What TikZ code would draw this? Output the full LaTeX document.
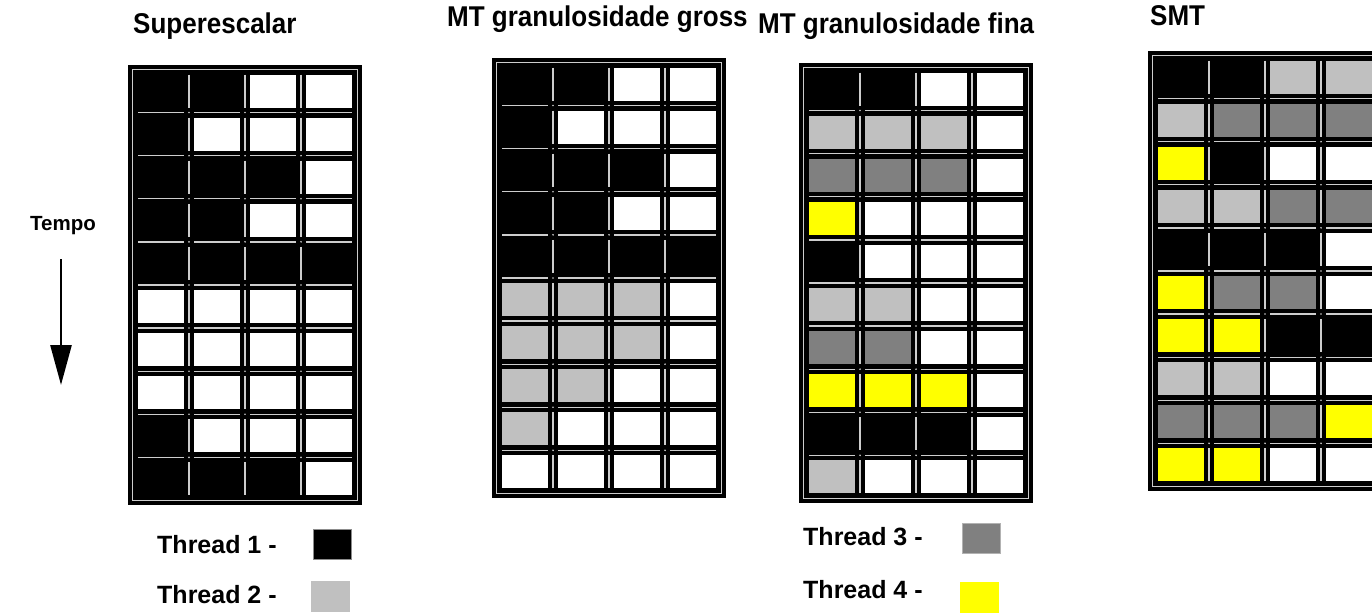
\documentclass[tikz,border=0pt]{standalone}
\usepackage{fontspec}
\usepackage{graphicx}
\setmainfont{Liberation Sans}
\usetikzlibrary{arrows.meta}
\definecolor{cK}{RGB}{0,0,0}
\definecolor{cW}{RGB}{255,255,255}
\definecolor{cL}{RGB}{192,192,192}
\definecolor{cD}{RGB}{128,128,128}
\definecolor{cY}{RGB}{255,255,0}
\definecolor{gline}{RGB}{205,205,205}
\tikzset{
  titletext/.style={font=\bfseries\fontsize{26}{26}\selectfont, inner sep=0pt, anchor=base west},
  legtext/.style={font=\bfseries\fontsize{25}{25}\selectfont, inner sep=0pt, anchor=base west},
  legsq/.style={minimum width=38pt, minimum height=30pt, inner sep=0pt, draw=black!45, line width=0.6pt},
  gridline/.style={draw=gline, line width=1.3pt},
}
\newcommand{\mtgrid}[3]{%
\begin{scope}[shift={(#1,#2)}]
  \fill[black] (0,0) rectangle (234,440);
  \draw[gridline] (4.5,4.5) rectangle (229.5,435.5);
  \foreach \rr in {0,...,9}{
    \foreach \kk in {0,...,3}{
      \pgfmathsetmacro\xa{10+56*\kk}
      \pgfmathsetmacro\ya{9.5+43.1*\rr}
      \ifnum\rr<9 \draw[gridline] (\xa,\ya+38.05) -- (\xa+46,\ya+38.05); \fi
      \ifnum\kk<3 \draw[gridline] (\xa+51,\ya) -- (\xa+51,\ya+33); \fi
      \ifnum\rr<9 \ifnum\kk<3 \fill[gline] (\xa+51,\ya+38.05) circle (0.9); \fi\fi
    }
  }
  \foreach \rowlist [count=\rn from 0] in {#3}{
    \foreach \cl [count=\kn from 0] in \rowlist {
      \fill[fill=c\cl] (10+56*\kn, 9.5+43.1*\rn) rectangle ++(46,33);
    }
  }
\end{scope}}
\begin{document}
\begin{tikzpicture}[x=1pt,y=-1pt]
\useasboundingbox (0,0) rectangle (1372,613);
\clip (0,0) rectangle (1372,613);
\fill[white] (0,0) rectangle (1372,613);

% titles
\node[titletext] (t1) at (133,33) {\scalebox{1}[1.1]{Superescalar}};
\node[titletext] (t2) at (447,27) {\scalebox{1}[1.1]{MT granulosidade gross}};
\node[titletext] (t3) at (758,33) {\scalebox{1}[1.1]{MT granulosidade fina}};
\node[titletext] (t4) at (1150,25) {\scalebox{1}[1.1]{SMT}};

% grids
\mtgrid{128}{65}{{K,K,W,W},{K,W,W,W},{K,K,K,W},{K,K,W,W},{K,K,K,K},{W,W,W,W},{W,W,W,W},{W,W,W,W},{K,W,W,W},{K,K,K,W}}
\mtgrid{492}{58}{{K,K,W,W},{K,W,W,W},{K,K,K,W},{K,K,W,W},{K,K,K,K},{L,L,L,W},{L,L,L,W},{L,L,W,W},{L,W,W,W},{W,W,W,W}}
\mtgrid{799}{63}{{K,K,W,W},{L,L,L,W},{D,D,D,W},{Y,W,W,W},{K,W,W,W},{L,L,W,W},{D,D,W,W},{Y,Y,Y,W},{K,K,K,W},{L,W,W,W}}
\mtgrid{1148}{51}{{K,K,L,L},{L,D,D,D},{Y,K,W,W},{L,L,D,D},{K,K,K,W},{Y,D,D,W},{Y,Y,K,K},{L,L,W,W},{D,D,D,Y},{Y,Y,W,W}}

% time axis
\node[font=\bfseries\fontsize{20.5}{20}\selectfont, inner sep=0pt, anchor=base east] (tempo) at (96,230) {Tempo};
\coordinate (ta) at (61,259);
\coordinate (tb) at (61,385);
\draw[line width=2.6pt, -{Triangle[width=21pt,length=40pt]}] (ta) -- (tb);

% legends
\node[legtext] (th1) at (157,553) {Thread 1 -};
\node[legsq, fill=cK] (s1) at (332,544) {};
\node[legtext] (th2) at (157,603) {Thread 2 -};
\node[legsq, fill=cL, draw=cL] (s2) at (330,596) {};
\node[legtext] (th3) at (803,545) {Thread 3 -};
\node[legsq, fill=cD, draw=black!30] (s3) at (981.5,538) {};
\node[legtext] (th4) at (803,598) {Thread 4 -};
\node[legsq, fill=cY, draw=cY] (s4) at (979.5,597) {};
\end{tikzpicture}
\end{document}
